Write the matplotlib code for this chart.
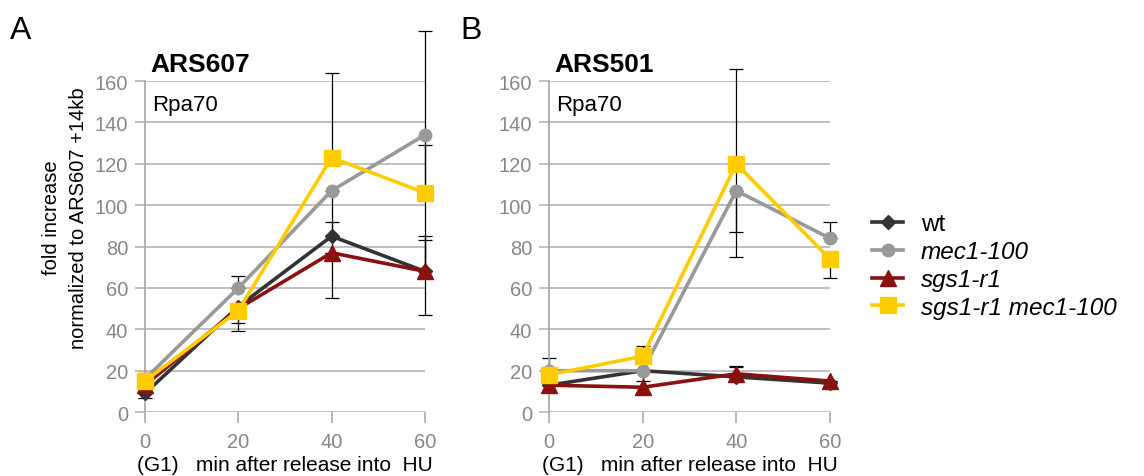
import numpy as np
import matplotlib
matplotlib.use('Agg')
import matplotlib.pyplot as plt

plt.rcParams['font.family'] = ['Liberation Sans', 'DejaVu Sans']

# time points (min after release into HU)
t = [0, 20, 40, 60]

# Panel A: ARS607
a_wt = [9, 51, 85, 68]
a_mec = [16, 60, 107, 134]
a_sgs = [13, 50, 77, 68]
a_dbl = [15, 49, 123, 106]
# asymmetric error bars (lower, upper)
a_wt_err = ([2, 8, 0, 0], [2, 0, 7, 17])
a_mec_err = ([0, 0, 52, 87], [3, 6, 0, 50])
a_sgs_err = ([0, 11, 0, 0], [0, 0, 0, 15])
a_dbl_err = ([0, 0, 0, 0], [0, 0, 41, 23])

# Panel B: ARS501
b_wt = [13, 20, 17, 14]
b_mec = [20, 20, 107, 84]
b_sgs = [13, 12, 18.5, 15]
b_dbl = [18, 27, 120, 74]
b_wt_err = ([0, 5, 2, 2], [0, 0, 5, 0])
b_mec_err = ([0, 0, 20, 0], [6, 12, 0, 8])
b_sgs_err = ([0, 0, 0, 0], [0, 0, 4, 0])
b_dbl_err = ([0, 0, 45, 9], [0, 0, 46, 0])

labels = ['wt', 'mec1-100', 'sgs1-r1', 'sgs1-r1 mec1-100']
colors = ['#333333', '#999999', '#8b1111', '#ffcc00']
markers = ['D', 'o', '^', 's']
msizes = [7, 9, 11, 12]

fig = plt.figure(figsize=(11.44, 4.77), dpi=100)
axA = fig.add_axes([0.1267, 0.134, 0.2448, 0.694])
axB = fig.add_axes([0.4799, 0.134, 0.2456, 0.694])

panels = [
    (axA, 'ARS607', [a_wt, a_mec, a_sgs, a_dbl], [a_wt_err, a_mec_err, a_sgs_err, a_dbl_err]),
    (axB, 'ARS501', [b_wt, b_mec, b_sgs, b_dbl], [b_wt_err, b_mec_err, b_sgs_err, b_dbl_err]),
]

handles = []
for ax, title, series, errs in panels:
    for vals, err in zip(series, errs):
        ax.errorbar(t, vals, yerr=[err[0], err[1]], fmt='none', ecolor='black',
                    elinewidth=0.9, capsize=5, capthick=0.9, zorder=2, clip_on=False)
    hs = []
    for vals, lab, c, m, ms in zip(series, labels, colors, markers, msizes):
        h, = ax.plot(t, vals, color=c, marker=m, markersize=ms, linewidth=2.6,
                     label=lab, zorder=3, clip_on=False)
        hs.append(h)
    handles = hs
    ax.set_xlim(0, 60)
    ax.set_ylim(0, 160)
    ax.set_yticks(range(0, 161, 20))
    ax.set_xticks(t)
    ax.grid(axis='y', color='#bbbbbb', linewidth=1.3)
    ax.set_axisbelow(True)
    for s in ['top', 'right', 'bottom']:
        ax.spines[s].set_visible(False)
    ax.spines['left'].set_color('#aaaaaa')
    ax.spines['left'].set_linewidth(1.3)
    ax.tick_params(axis='y', length=7, width=1.3, color='#bbbbbb', labelsize=14.5,
                   labelcolor='#888888', pad=5)
    ax.tick_params(axis='x', length=8, width=1.2, color='#aaaaaa', labelsize=14.5,
                   labelcolor='#888888', pad=6)
    ax.set_xlabel('(G1)   min after release into  HU', fontsize=15, labelpad=3)
    ax.text(0.02, 1.015, title, transform=ax.transAxes, fontsize=19,
            fontweight='bold', va='bottom')
    ax.text(0.025, 0.93, 'Rpa70', transform=ax.transAxes, fontsize=16, va='center')

axA.set_ylabel('fold increase\nnormalized to ARS607 +14kb', fontsize=14.5,
               linespacing=1.5)
axA.yaxis.set_label_coords(-0.205, 0.59)

fig.text(0.009, 0.935, 'A', fontsize=23, va='center')
fig.text(0.402, 0.935, 'B', fontsize=23, va='center')

leg = fig.legend(handles=handles, labels=labels, loc='center left',
                 bbox_to_anchor=(0.752, 0.44), frameon=False, fontsize=17.5,
                 borderpad=0, handlelength=1.25, handletextpad=0.75, labelspacing=0.2)
for i, txt in enumerate(leg.get_texts()):
    if i > 0:
        txt.set_style('italic')

fig.savefig('out.png', dpi=100)
